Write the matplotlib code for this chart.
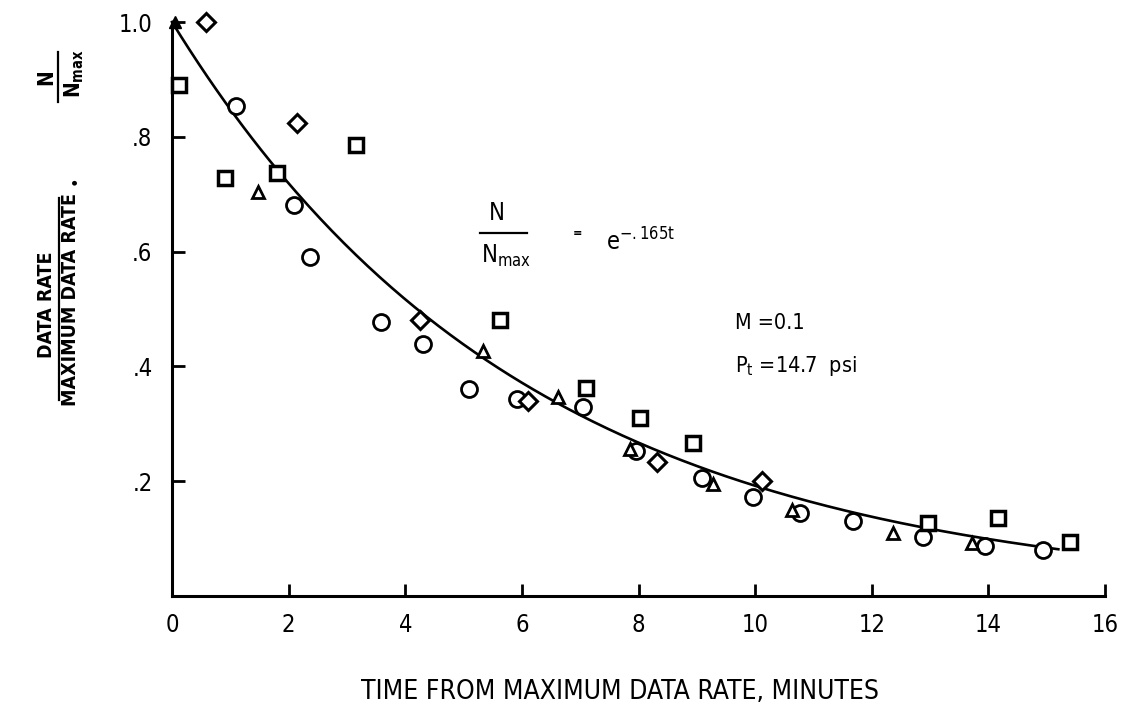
import numpy as np
import matplotlib
matplotlib.use("Agg")
import matplotlib.pyplot as plt
from matplotlib.lines import Line2D

# ---------------- data ----------------
circle_t = [1.10, 2.09, 2.37, 3.58, 4.31, 5.09, 5.91, 7.05, 7.96, 9.09, 9.97, 10.77, 11.68, 12.88, 13.94, 14.94]
circle_v = [0.854, 0.681, 0.591, 0.478, 0.439, 0.360, 0.343, 0.330, 0.252, 0.205, 0.173, 0.145, 0.131, 0.103, 0.087, 0.080]

square_t = [0.12, 0.91, 1.80, 3.16, 5.63, 7.10, 8.03, 8.94, 12.97, 14.17, 15.40]
square_v = [0.890, 0.728, 0.737, 0.786, 0.481, 0.362, 0.310, 0.267, 0.127, 0.136, 0.094]

diamond_t = [0.58, 2.14, 4.25, 6.10, 8.31, 10.12]
diamond_v = [1.000, 0.824, 0.480, 0.339, 0.234, 0.200]

triangle_t = [1.48, 5.33, 6.62, 7.86, 9.28, 10.63, 12.37, 13.72]
triangle_v = [0.704, 0.427, 0.347, 0.256, 0.195, 0.150, 0.110, 0.092]

filled_t = [0.05]
filled_v = [1.000]

decay_rate = 0.165
fit_t_end = 15.2

x_ticks = [0, 2, 4, 6, 8, 10, 12, 14, 16]
y_ticks = [0.2, 0.4, 0.6, 0.8, 1.0]
y_ticklabels = [".2", ".4", ".6", ".8", "1.0"]

# ---------------- fonts ----------------
plt.rcParams["font.family"] = ["DejaVu Sans"]
plt.rcParams["font.stretch"] = "condensed"
plt.rcParams["mathtext.default"] = "regular"

W, H = 1122, 712
def fx(px):
    return px / W
def fy(py):
    return 1 - py / H

# ---------------- figure ----------------
fig = plt.figure(figsize=(W / 100, H / 100), dpi=100)
ax = fig.add_axes([fx(172), fy(596), (1105 - 172) / W, (596 - 22) / H])

ax.set_xlim(0, 16)
ax.set_ylim(0, 1.0)

for s in ["top", "right"]:
    ax.spines[s].set_visible(False)
for s in ["left", "bottom"]:
    ax.spines[s].set_linewidth(2.2)
    ax.spines[s].set_color("black")

ax.set_xticks(x_ticks)
ax.set_xticklabels([str(v) for v in x_ticks], fontsize=17)
ax.set_yticks(y_ticks)
ax.set_yticklabels(y_ticklabels, fontsize=17)
ax.tick_params(axis="both", direction="in", width=2.0, length=9, color="black")
ax.tick_params(axis="x", pad=12)
ax.tick_params(axis="y", pad=14)

# fitted curve
t = np.linspace(0, fit_t_end, 300)
ax.plot(t, np.exp(-decay_rate * t), color="black", lw=1.9, clip_on=False, zorder=2)

mk = dict(linestyle="none", markerfacecolor="white", markeredgecolor="black",
          clip_on=False, zorder=3)
ax.plot(circle_t, circle_v, marker="o", markersize=11.5, markeredgewidth=2.0, **mk)
ax.plot(square_t, square_v, marker="s", markersize=10, markeredgewidth=2.5, **mk)
ax.plot(diamond_t, diamond_v, marker="D", markersize=9.5, markeredgewidth=2.2, **mk)
ax.plot(triangle_t, triangle_v, marker="^", markersize=8.5, markeredgewidth=2.0, **mk)
ax.plot(filled_t, filled_v, marker="^", markersize=9, linestyle="none",
        color="black", clip_on=False, zorder=3)

# in-plot formula N/Nmax = e^-.165t
ax.text(5.57, 0.667, "N", fontsize=17, ha="center", va="center")
ax.plot([5.28, 6.09], [0.632, 0.632], color="black", lw=1.6)
ax.text(5.30, 0.592, r"N$_{max}$", fontsize=17, ha="left", va="center")
ax.text(6.96, 0.631, "=", fontsize=9, ha="center", va="center", fontweight="bold")
ax.text(7.45, 0.617, r"e$^{-.165t}$", fontsize=17, ha="left", va="center")

ax.text(9.65, 0.476, "M =0.1", fontsize=15.5, ha="left", va="center")
ax.text(9.65, 0.401, r"P$_t$ =14.7  psi", fontsize=15.5, ha="left", va="center")

# x label
fig.text(fx(620), fy(692), "TIME FROM MAXIMUM DATA RATE, MINUTES",
         fontsize=19, ha="center", va="center")

# y label: DATA RATE / MAXIMUM DATA RATE , N / Nmax
fig.text(fx(47), fy(305), "DATA RATE", fontsize=14, fontweight="bold",
         rotation=90, ha="center", va="center")
fig.add_artist(Line2D([fx(59), fx(59)], [fy(198), fy(400)], color="black", lw=1.6))
fig.text(fx(71), fy(299), "MAXIMUM DATA RATE", fontsize=14, fontweight="bold",
         rotation=90, ha="center", va="center")
fig.text(fx(75), fy(180), "•", fontsize=13, rotation=90, ha="center", va="center")
fig.text(fx(46), fy(77), "N", fontsize=15, fontweight="bold",
         rotation=90, ha="center", va="center")
fig.add_artist(Line2D([fx(58), fx(58)], [fy(52), fy(102)], color="black", lw=1.6))
fig.text(fx(74), fy(74), r"N$_{max}$", fontsize=15, fontweight="bold",
         rotation=90, ha="center", va="center")

fig.savefig("out.png", dpi=100, facecolor="white")
